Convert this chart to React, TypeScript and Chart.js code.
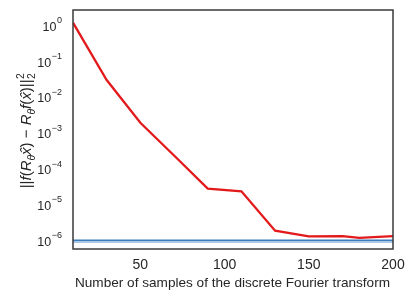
import React, { useEffect, useRef } from "react";
import { Chart, registerables } from "chart.js";

Chart.register(...registerables);

// ---- data ----
const sampleCounts = [10, 30, 50, 70, 90, 110, 130, 150, 170, 180, 200];
const errorValues = [1.26, 0.0317, 2.04e-3, 2.48e-4, 2.94e-5, 2.48e-5, 1.97e-6, 1.37e-6, 1.4e-6, 1.25e-6, 1.4e-6];
const baselineX = [10, 200];
const baselineValues = [1.05e-6, 1.05e-6];
const baselineLowerValues = [0.96e-6, 0.96e-6];
const xTicks = [50, 100, 150, 200];
const yTickExponents = [0, -1, -2, -3, -4, -5, -6];
const xTitle = "Number of samples of the discrete Fourier transform";

const FONT = "'Liberation Sans', Arial, sans-serif";
const TEXT = "#262626";

type Seg = { t: string; italic?: boolean; script?: "sub" | "sup" | "both" };
const yTitleSegs: Seg[] = [
  { t: "||" },
  { t: "f", italic: true },
  { t: "(" },
  { t: "R", italic: true },
  { t: "θ", italic: true, script: "sub" },
  { t: "x\u0302", italic: true },
  { t: ")" },
  { t: " − " },
  { t: "R", italic: true },
  { t: "θ", italic: true, script: "sub" },
  { t: "f", italic: true },
  { t: "(" },
  { t: "x\u0302", italic: true },
  { t: ")" },
  { t: "||" },
  { t: "2", script: "both" },
];

const textPlugin = {
  id: "textPlugin",
  afterDraw(chart: any) {
    const ctx = chart.ctx as CanvasRenderingContext2D;
    const area = chart.chartArea;
    const xs = chart.scales.x;
    const ys = chart.scales.y;
    ctx.save();
    // frame
    ctx.strokeStyle = "#3a3a3a";
    ctx.lineWidth = 1.5;
    ctx.strokeRect(area.left, area.top, area.right - area.left, area.bottom - area.top);

    ctx.fillStyle = TEXT;
    // x tick labels
    ctx.font = `14px ${FONT}`;
    ctx.textAlign = "center";
    ctx.textBaseline = "middle";
    for (const v of xTicks) {
      ctx.fillText(String(v), xs.getPixelForValue(v), 265);
    }
    // x title
    ctx.font = `13.6px ${FONT}`;
    ctx.fillText(xTitle, 232.5, 283.5);

    // y tick labels
    for (const e of yTickExponents) {
      const py = ys.getPixelForValue(Math.pow(10, e));
      const exp = e === 0 ? "0" : "−" + String(-e);
      ctx.font = `12.5px ${FONT}`;
      const w10 = ctx.measureText("10").width;
      ctx.font = `9px ${FONT}`;
      const we = ctx.measureText(exp).width;
      const right = 62;
      const start = right - w10 - we - 0.5;
      ctx.textAlign = "left";
      ctx.textBaseline = "middle";
      ctx.font = `12.5px ${FONT}`;
      ctx.fillText("10", start, py + 1);
      ctx.font = `9px ${FONT}`;
      ctx.fillText(exp, start + w10 + 0.5, py - 5.5);
    }

    // y title (rotated rich text)
    const size = 15;
    const scriptSize = 10.3;
    const fontFor = (s: Seg) =>
      `${s.italic ? "italic " : ""}${s.script ? scriptSize : size}px ${FONT}`;
    let total = 0;
    const widths: number[] = [];
    for (const s of yTitleSegs) {
      ctx.font = fontFor(s);
      const w = ctx.measureText(s.t).width;
      widths.push(w);
      total += w;
    }
    ctx.translate(31, 131);
    ctx.rotate(-Math.PI / 2);
    ctx.textAlign = "left";
    ctx.textBaseline = "alphabetic";
    let x = -total / 2;
    yTitleSegs.forEach((s, i) => {
      ctx.font = fontFor(s);
      if (s.script === "sub") {
        ctx.fillText(s.t, x, 3.5);
      } else if (s.script === "sup") {
        ctx.fillText(s.t, x, -7);
      } else if (s.script === "both") {
        ctx.fillText(s.t, x + 0.5, -7.5);
        ctx.fillText(s.t, x + 0.5, 4);
      } else {
        ctx.fillText(s.t, x, 0);
      }
      x += widths[i];
    });
    ctx.restore();
  },
};

export default function App() {
  const ref = useRef<HTMLCanvasElement | null>(null);
  useEffect(() => {
    if (!ref.current) return;
    const chart = new Chart(ref.current, {
      type: "line",
      data: {
        datasets: [
          {
            data: baselineX.map((x, i) => ({ x, y: baselineLowerValues[i] })),
            borderColor: "#a9c6e3",
            borderWidth: 2,
            pointRadius: 0,
          },
          {
            data: baselineX.map((x, i) => ({ x, y: baselineValues[i] })),
            borderColor: "#3b7dbd",
            borderWidth: 2,
            pointRadius: 0,
          },
          {
            data: sampleCounts.map((x, i) => ({ x, y: errorValues[i] })),
            borderColor: "#e31a1c",
            borderWidth: 2.3,
            pointRadius: 0,
            tension: 0,
          },
        ],
      },
      options: {
        responsive: false,
        animation: false,
        devicePixelRatio: 1,
        layout: { padding: { top: 10, right: 22, left: 0, bottom: 0 } },
        plugins: { legend: { display: false }, tooltip: { enabled: false } },
        scales: {
          x: {
            type: "linear",
            min: 10,
            max: 200,
            grid: { display: false, drawTicks: false },
            border: { display: false },
            ticks: { display: false },
            afterFit: (s: any) => {
              s.height = 52;
            },
          },
          y: {
            type: "logarithmic",
            min: 6.1e-7,
            max: 2.85,
            grid: { display: false, drawTicks: false },
            border: { display: false },
            ticks: { display: false },
            afterFit: (s: any) => {
              s.width = 73;
            },
          },
        },
      },
      plugins: [textPlugin],
    } as any);
    return () => chart.destroy();
  }, []);
  return (
    <div style={{ position: "fixed", left: 0, top: 0, width: 415, height: 301, background: "#fff" }}>
      <canvas ref={ref} width={415} height={301} />
    </div>
  );
}
